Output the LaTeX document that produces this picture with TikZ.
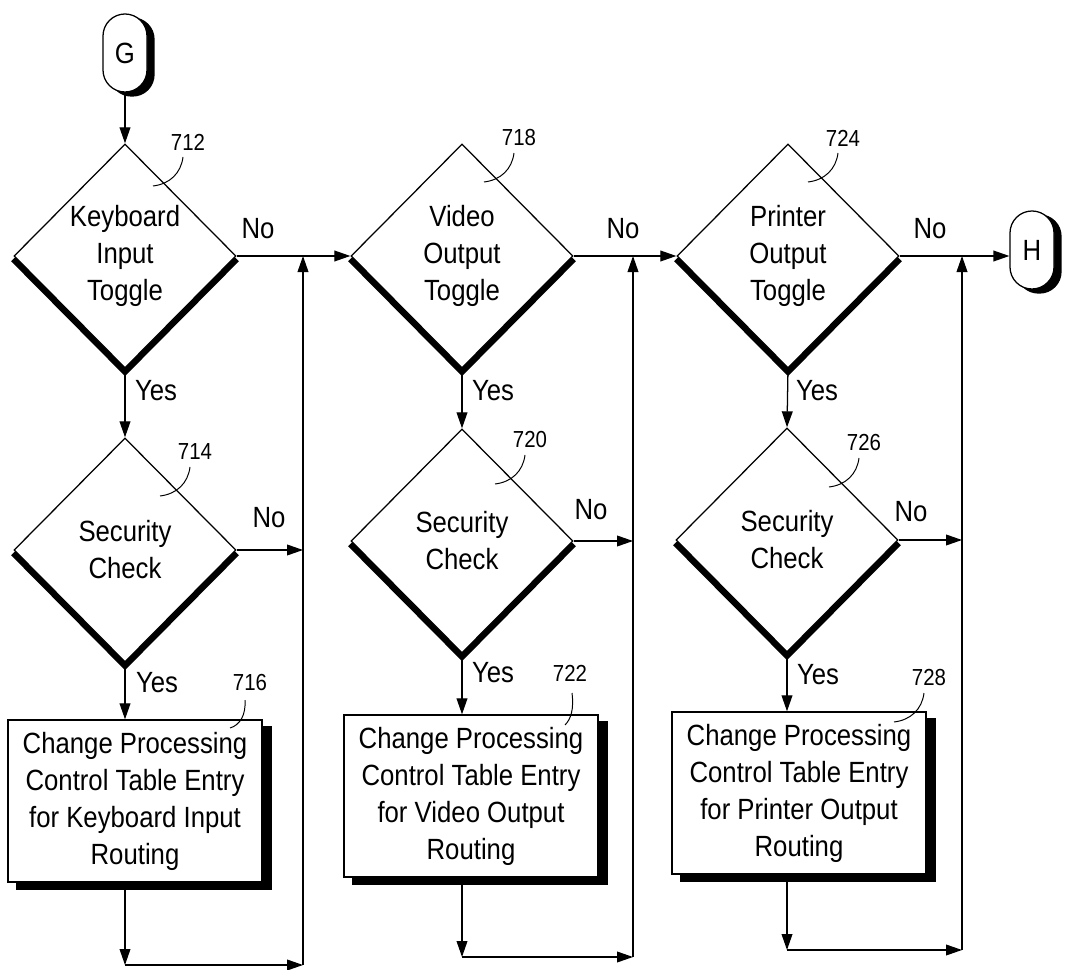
\documentclass[tikz,border=0pt]{standalone}
\usepackage{fontspec}
\setmainfont{Liberation Sans}[FakeStretch=0.88]
\usetikzlibrary{shapes.geometric,arrows.meta,backgrounds,calc}
\newcommand\myleader[5]{%
  \draw[lead] ($(#1)+(#2)$) .. controls ($(#1)+(#3)$) and ($(#1)+(#4)$) .. ($(#1)+(#5)$);}
\begin{document}
\begin{tikzpicture}[x=0.025cm,y=-0.025cm,
  every node/.style={font=\fontsize{20.8}{26.3}\selectfont},
  dec/.style={shape=diamond,draw,fill=white,line width=0.9pt,minimum width=5.55cm,minimum height=5.6cm,inner sep=0pt,align=center},
  proc/.style={shape=rectangle,draw,fill=white,line width=0.9pt,minimum width=6.35cm,minimum height=4.05cm,inner sep=2pt,align=center},
  term/.style={shape=rectangle,rounded corners=0.55cm,draw,fill=white,line width=0.9pt,minimum width=1.1cm,minimum height=1.95cm,inner sep=0pt},
  arr/.style={line width=0.9pt,-{Triangle[length=0.4cm,width=0.27cm]}},
  refl/.style={font=\fontsize{16.5}{18}\selectfont},
  lead/.style={line width=0.7pt},
  dshadow/.style={line width=4.5pt},
]
\useasboundingbox (0,0) rectangle (1071,970);

% nodes
\node[term] (G) at (125,53) {G};
\node[dec] (d1) at (125,256) {Keyboard\\Input\\Toggle};
\node[dec] (d2) at (125,550) {Security\\Check};
\node[proc] (b1) at (135,801) {Change Processing\\Control Table Entry\\for Keyboard Input\\Routing};
\node[dec] (d3) at (462,256) {Video\\Output\\Toggle};
\node[dec] (d4) at (462,541) {Security\\Check};
\node[proc] (b2) at (471,796) {Change Processing\\Control Table Entry\\for Video Output\\Routing};
\node[dec] (d5) at (788,256) {Printer\\Output\\Toggle};
\node[dec] (d6) at (787,540) {Security\\Check};
\node[proc] (b3) at (799,793) {Change Processing\\Control Table Entry\\for Printer Output\\Routing};
\node[term] (H) at (1032,250) {H};

% shadows
\begin{scope}[on background layer]
  \foreach \n in {d1,d2,d3,d4,d5,d6}
    \draw[dshadow] ([shift={(0,3)}]\n.west) -- ([shift={(0,3)}]\n.south) -- ([shift={(0,3)}]\n.east);
  \foreach \n in {b1,b2,b3}
    \fill ([shift={(9,7)}]\n.north west) rectangle ([shift={(9,7)}]\n.south east);
  \foreach \n in {G,H}
    \fill[rounded corners=0.55cm] ([shift={(7,4)}]\n.north west) rectangle ([shift={(7,4)}]\n.south east);
\end{scope}

% bus coordinates
\coordinate (k1) at (303,256);
\coordinate (k2) at (633,256);
\coordinate (k3) at (962,256);
\coordinate (e1) at (125,965); \coordinate (m1) at (303,965);
\coordinate (e2) at (462,957); \coordinate (m2) at (633,957);
\coordinate (e3) at (787,950); \coordinate (m3) at (962,950);

% connectors column 1
\draw[arr] (G.south) -- (d1.north);
\draw[arr] (d1.south) -- (d2.north);
\draw[arr] (d2.south) -- (d2.south |- b1.north);
\draw[arr] (d2.east) -- (d2.east -| k1);
\draw[arr] (d2.south |- b1.south) -- (e1);
\draw[arr] (e1) -- (m1);
\draw[arr] (m1) -- (k1);
\draw[arr] (d1.east) -- (d3.west);
% column 2
\draw[arr] (d3.south) -- (d4.north);
\draw[arr] (d4.south) -- (d4.south |- b2.north);
\draw[arr] (d4.east) -- (d4.east -| k2);
\draw[arr] (d4.south |- b2.south) -- (e2);
\draw[arr] (e2) -- (m2);
\draw[arr] (m2) -- (k2);
\draw[arr] (d3.east) -- (d5.west);
% column 3
\draw[arr] (d5.south) -- (d6.north);
\draw[arr] (d6.south) -- (d6.south |- b3.north);
\draw[arr] (d6.east) -- (d6.east -| k3);
\draw[arr] (d6.south |- b3.south) -- (e3);
\draw[arr] (e3) -- (m3);
\draw[arr] (m3) -- (k3);
\draw[arr] (d5.east) -- (d5.east -| H.west);

% Yes / No labels
\node (y1) at (156,391) {Yes}; \node (n1) at (258,229) {No};
\node (n2) at (269,518) {No};  \node (y2) at (157,683) {Yes};
\node (y3) at (493,391) {Yes}; \node (n3) at (623,229) {No};
\node (n4) at (591,510) {No};  \node (y4) at (493,673) {Yes};
\node (y5) at (817,391) {Yes}; \node (n5) at (930,229) {No};
\node (n6) at (911,512) {No};  \node (y6) at (818,675) {Yes};

% reference numerals
\node[refl] (r712) at (188,142) {712};
\node[refl] (r714) at (195,452) {714};
\node[refl] (r716) at (250,683) {716};
\node[refl] (r718) at (519,138) {718};
\node[refl] (r720) at (530,440) {720};
\node[refl] (r722) at (570,673) {722};
\node[refl] (r724) at (843,138) {724};
\node[refl] (r726) at (864,443) {726};
\node[refl] (r728) at (929,678) {728};

\foreach \r in {r712,r714,r718,r720,r724,r726,r728}
  \myleader{\r}{-5,15}{-7,31}{-18,42}{-35,44};
\myleader{r716}{-5,17}{-4,32}{-10,42}{-20,45};
\myleader{r722}{2,20}{4,36}{1,46}{-5,52};
\end{tikzpicture}
\end{document}
